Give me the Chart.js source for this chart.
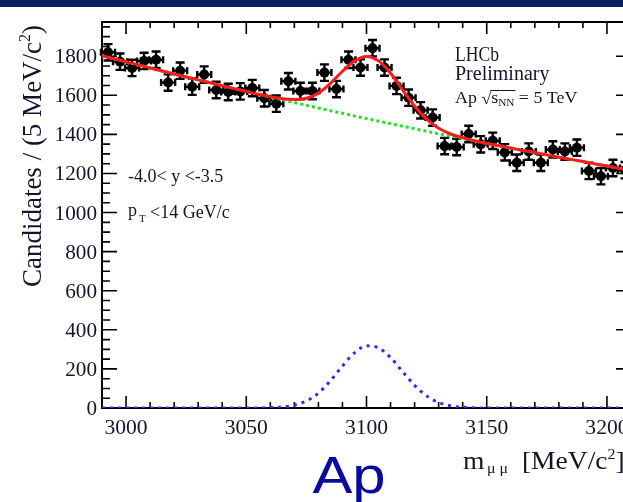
<!DOCTYPE html>
<html>
<head>
<meta charset="utf-8">
<script src="https://cdn.jsdelivr.net/npm/chart.js@4.4.0/dist/chart.umd.min.js"></script>
<style>
html, body { margin: 0; padding: 0; background: #fff; overflow: hidden; }
#wrap { position: absolute; left: 0; top: 0; width: 640px; height: 502px; }
#topbar { position: absolute; left: 0; top: 0; width: 623px; height: 7px; background: #0b2060; }
</style>
</head>
<body>
<div id="wrap"><canvas id="massChart" width="640" height="502"></canvas></div>
<div id="topbar"></div>
<script>
// bin centres (5 MeV bins) and candidates per bin
const binCenters = [
    2992.5, 2997.5, 3002.5, 3007.5, 3012.5, 3017.5, 3022.5, 3027.5, 3032.5, 3037.5,
    3042.5, 3047.5, 3052.5, 3057.5, 3062.5, 3067.5, 3072.5, 3077.5, 3082.5, 3087.5,
    3092.5, 3097.5, 3102.5, 3107.5, 3112.5, 3117.5, 3122.5, 3127.5, 3132.5, 3137.5,
    3142.5, 3147.5, 3152.5, 3157.5, 3162.5, 3167.5, 3172.5, 3177.5, 3182.5, 3187.5,
    3192.5, 3197.5, 3202.5, 3207.5
];
const candidates = [
    1820, 1772, 1740, 1776, 1782, 1665, 1726, 1644, 1706, 1627,
    1617, 1620, 1637, 1585, 1557, 1672, 1622, 1622, 1716, 1632,
    1782, 1742, 1841, 1742, 1648, 1588, 1523, 1486, 1340, 1335,
    1402, 1349, 1367, 1308, 1255, 1312, 1255, 1323, 1312, 1332,
    1213, 1186, 1228, 1217
];
const candErr = 42;       // half height of the error bars
const binHalfWidth = 2.5; // half width of a bin

// fit curves, read at 5 MeV steps
const curveMass = [
    2990, 2995, 3000, 3005, 3010, 3015, 3020, 3025, 3030, 3035,
    3040, 3045, 3050, 3055, 3060, 3065, 3070, 3075, 3080, 3085,
    3090, 3095, 3100, 3105, 3110, 3115, 3120, 3125, 3130, 3135,
    3140, 3145, 3150, 3155, 3160, 3165, 3170, 3175, 3180, 3185,
    3190, 3195, 3200, 3205, 3210
];
const totalFit = [
    1803, 1787, 1771, 1756, 1740, 1724, 1709, 1694, 1679, 1664,
    1649, 1634, 1620, 1605, 1593, 1582, 1578, 1585, 1611, 1661,
    1723, 1776, 1799, 1776, 1713, 1628, 1545, 1478, 1431, 1402,
    1383, 1367, 1354, 1342, 1330, 1318, 1307, 1295, 1283, 1272,
    1261, 1249, 1238, 1227, 1216
];
const backgroundFit = [
    1803, 1787, 1771, 1756, 1740, 1724, 1709, 1694, 1679, 1664,
    1649, 1634, 1620, 1605, 1591, 1577, 1563, 1549, 1535, 1521,
    1508, 1494, 1481, 1468, 1455, 1442, 1429, 1416, 1403, 1391,
    1379, 1366, 1354, 1342, 1330, 1318, 1307, 1295, 1283, 1272,
    1261, 1249, 1238, 1227, 1216
];
const signalFit = [
    0, 0, 0, 0, 0, 0, 0, 0, 0, 0,
    0, 0, 0, 0, 2, 5, 15, 36, 76, 140,
    215, 282, 318, 308, 258, 186, 116, 62, 28, 11,
    4, 1, 0, 0, 0, 0, 0, 0, 0, 0,
    0, 0, 0, 0, 0
];

const xTickLabels = [3000, 3050, 3100, 3150, 3200];
const yTickLabels = [0, 200, 400, 600, 800, 1000, 1200, 1400, 1600, 1800];

const SERIF = '"Liberation Serif", "DejaVu Serif", serif';
const INK = '#14142a';

function pairs(xs, ys) {
    return xs.map((v, i) => ({ x: v, y: ys[i] }));
}

// draws runs of text [text, size, dy] one after the other
function drawRuns(ctx, runs, x, y, align, hscale) {
    hscale = hscale || 1;
    let w = 0;
    runs.forEach(r => { ctx.font = r[1] + 'px ' + SERIF; w += ctx.measureText(r[0]).width; });
    ctx.save();
    ctx.translate(x, y);
    ctx.scale(hscale, 1);
    let cx = align === 'center' ? -w / 2 : (align === 'right' ? -w : 0);
    ctx.textAlign = 'left';
    ctx.textBaseline = 'alphabetic';
    runs.forEach(r => {
        ctx.font = r[1] + 'px ' + SERIF;
        ctx.fillText(r[0], cx, r[2] || 0);
        cx += ctx.measureText(r[0]).width;
    });
    ctx.restore();
}

// error bars under the markers
const errorBars = {
    id: 'errorBars',
    beforeDatasetsDraw(chart) {
        const { ctx, scales: { x, y } } = chart;
        ctx.save();
        ctx.strokeStyle = '#000';
        ctx.lineWidth = 2.4;
        binCenters.forEach((m, i) => {
            const px = x.getPixelForValue(m);
            const py = y.getPixelForValue(candidates[i]);
            const yTop = y.getPixelForValue(candidates[i] + candErr);
            const yBot = y.getPixelForValue(candidates[i] - candErr);
            const xl = x.getPixelForValue(m - binHalfWidth);
            const xr = x.getPixelForValue(m + binHalfWidth);
            ctx.beginPath();
            ctx.moveTo(px, yTop); ctx.lineTo(px, yBot);
            ctx.moveTo(px - 4.5, yTop); ctx.lineTo(px + 4.5, yTop);
            ctx.moveTo(px - 4.5, yBot); ctx.lineTo(px + 4.5, yBot);
            ctx.moveTo(xl - 1, py); ctx.lineTo(xr + 1, py);
            ctx.moveTo(xl - 1, py - 3.5); ctx.lineTo(xl - 1, py + 3.5);
            ctx.moveTo(xr + 1, py - 3.5); ctx.lineTo(xr + 1, py + 3.5);
            ctx.stroke();
        });
        ctx.restore();
    }
};

// ROOT style frame: ticks inside on all four sides
const rootFrame = {
    id: 'rootFrame',
    beforeDatasetsDraw(chart) {
        const { ctx, chartArea: a, scales: { x, y } } = chart;
        ctx.save();
        ctx.strokeStyle = '#000';
        ctx.lineWidth = 1.6;
        ctx.beginPath();
        for (let v = 2990; v <= 3210; v += 10) {
            const px = x.getPixelForValue(v);
            const len = v % 50 === 0 ? 12 : 6;
            ctx.moveTo(px, a.bottom); ctx.lineTo(px, a.bottom - len);
            ctx.moveTo(px, a.top); ctx.lineTo(px, a.top + len);
        }
        for (let v = 0; v <= y.max; v += 50) {
            const py = y.getPixelForValue(v);
            const len = v % 200 === 0 ? 15 : 8;
            ctx.moveTo(a.left, py); ctx.lineTo(a.left + len, py);
            ctx.moveTo(a.right, py); ctx.lineTo(a.right - len, py);
        }
        ctx.stroke();
        ctx.lineWidth = 2;
        ctx.strokeRect(a.left, a.top, a.right - a.left, a.bottom - a.top);

        // tick labels
        ctx.fillStyle = INK;
        yTickLabels.forEach(v => {
            drawRuns(ctx, [[String(v), 20]], a.left - 5, y.getPixelForValue(v) + 7, 'right', 1.06);
        });
        xTickLabels.forEach(v => {
            drawRuns(ctx, [[String(v), 20]], x.getPixelForValue(v), a.bottom + 26, 'center', 1.08);
        });
        ctx.restore();
    },
    afterDraw(chart) {
        const { ctx } = chart;
        ctx.save();
        ctx.fillStyle = INK;

        // axis titles
        ctx.save();
        ctx.translate(41, 156);
        ctx.rotate(-Math.PI / 2);
        drawRuns(ctx, [['Candidates / (5 MeV/c', 27], ['2', 16, -11], [')', 27]], 0, 0, 'center', 1.0);
        ctx.restore();
        drawRuns(ctx, [['m', 26], [' ', 10], ['\u03bc \u03bc', 15, 4], ['  [MeV/c', 26], ['2', 15, -10], [']', 26]], 463, 469, 'left', 1.06);

        // LHCb text block
        ctx.font = '20px ' + SERIF;
        ctx.textAlign = 'left';
        ctx.fillText('LHCb', 455, 61, 44);
        ctx.fillText('Preliminary', 455, 80, 110);
        ctx.save();
        ctx.translate(455, 103);
        ctx.scale(1.12, 1);
        ctx.font = '16px ' + SERIF;
        const rx = ctx.measureText('Ap ').width;
        ctx.fillText('Ap ', 0, 0);
        ctx.fillText('\u221a', rx, 1);
        const sx = rx + ctx.measureText('\u221a').width;
        ctx.fillText('s', sx, 0);
        const nx = sx + ctx.measureText('s').width;
        ctx.font = '10px ' + SERIF;
        ctx.fillText('NN', nx, 3);
        const ex = nx + ctx.measureText('NN').width;
        ctx.strokeStyle = INK;
        ctx.lineWidth = 1;
        ctx.beginPath();
        ctx.moveTo(sx - 1, -12.5); ctx.lineTo(ex + 1, -12.5);
        ctx.stroke();
        ctx.font = '16px ' + SERIF;
        ctx.fillText(' = 5 TeV', ex, 0);
        ctx.restore();

        // kinematic range
        ctx.font = '18px ' + SERIF;
        ctx.fillText('-4.0< y <-3.5', 128, 182, 110);
        ctx.fillText('p', 128, 216);
        ctx.font = '11px ' + SERIF;
        ctx.fillText('T', 139, 222);
        ctx.font = '18px ' + SERIF;
        ctx.fillText('<14 GeV/c', 150, 218, 96);

        // big label
        ctx.save();
        ctx.translate(349, 493);
        ctx.scale(1.15, 1);
        ctx.font = '52px "Liberation Sans", Arial, sans-serif';
        ctx.textAlign = 'center';
        ctx.fillStyle = '#0a0aa0';
        ctx.fillText('Ap', 0, 0);
        ctx.restore();

        ctx.restore();
    }
};

document.addEventListener('DOMContentLoaded', function () {
    const ctx = document.getElementById('massChart');
    new Chart(ctx, {
        type: 'scatter',
        data: {
            datasets: [
                {
                    label: 'Total fit',
                    type: 'line',
                    data: pairs(curveMass, totalFit),
                    borderColor: '#ff1a1a',
                    borderWidth: 3,
                    pointRadius: 0,
                    cubicInterpolationMode: 'monotone',
                    fill: false,
                    order: 0
                },
                {
                    label: 'Background',
                    type: 'line',
                    data: pairs(curveMass, backgroundFit),
                    borderColor: '#22e022',
                    borderWidth: 3,
                    borderDash: [3, 3],
                    pointRadius: 0,
                    cubicInterpolationMode: 'monotone',
                    fill: false,
                    order: 1
                },
                {
                    label: 'J/psi signal',
                    type: 'line',
                    data: pairs(curveMass, signalFit),
                    borderColor: '#2a2aff',
                    borderWidth: 3,
                    borderDash: [3, 5],
                    pointRadius: 0,
                    cubicInterpolationMode: 'monotone',
                    fill: false,
                    order: 2
                },
                {
                    label: 'Data',
                    data: pairs(binCenters, candidates),
                    backgroundColor: '#000',
                    borderWidth: 0,
                    pointRadius: 5,
                    pointStyle: 'circle',
                    order: 3
                }
            ]
        },
        options: {
            responsive: false,
            animation: false,
            events: [],
            layout: { padding: { left: 102, top: 22, right: 9, bottom: 94 } },
            plugins: { legend: { display: false }, tooltip: { enabled: false } },
            scales: {
                x: { type: 'linear', min: 2990, max: 3210, display: false },
                y: { type: 'linear', min: 0, max: 1975, display: false }
            }
        },
        plugins: [rootFrame, errorBars]
    });
});
</script>
</body>
</html>
